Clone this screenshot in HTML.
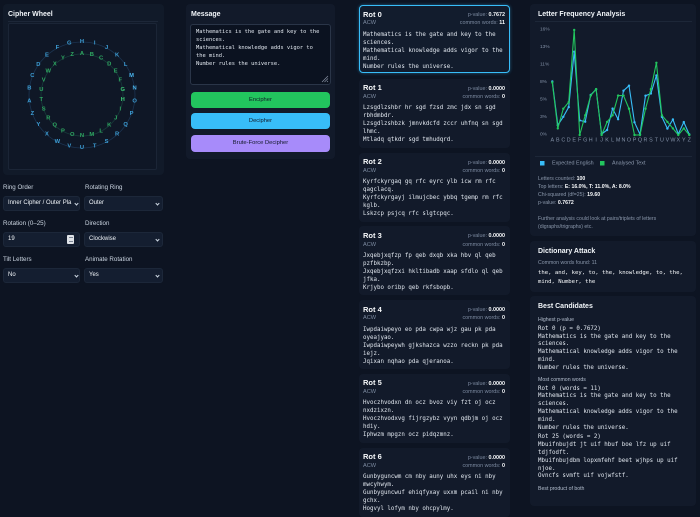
<!DOCTYPE html>
<html><head><meta charset="utf-8">
<style>
*{margin:0;padding:0;box-sizing:border-box}
html,body{width:700px;height:498px;overflow:hidden;background:#0d1422;font-family:"Liberation Sans",sans-serif;color:#e5e7eb}
.a{position:absolute;white-space:pre}
.card{position:absolute;background:#121a2a;border-radius:4px}
.h{font-weight:bold;font-size:7px;line-height:10px;color:#f1f5f9}
.rt{font-weight:bold;font-size:7.5px;line-height:10px;color:#f8fafc}
.acw{font-size:5.6px;line-height:10px;color:#7c8aa0}
.pv{font-size:5.4px;line-height:10px;color:#7c8aa0;text-align:right}
.pv b{color:#f8fafc}
.lbl{font-size:6.2px;line-height:10px;color:#cbd5e1}
.sel{position:absolute;background:#141e30;border:1px solid #1c2739;border-radius:3px;font-size:6px;line-height:13px;color:#f1f5f9;padding-left:4px;overflow:hidden;white-space:pre}
.chev{position:absolute;width:3px;height:3px;border-right:1px solid #cbd5e1;border-bottom:1px solid #cbd5e1;transform:rotate(45deg)}
.mono{font-family:"DejaVu Sans Mono","Liberation Mono",monospace;font-size:5.8px;line-height:8px;color:#e2e8f0}
.sm{font-size:5.2px;line-height:7.8px;color:#8a97ab}
.sm b{color:#f8fafc}
.btn{position:absolute;left:191px;width:139px;border-radius:4px;font-size:5.8px;color:#111827;text-align:center}
.ln{position:absolute;height:1px;background:#1d2738}
</style></head><body>

<!-- LEFT COLUMN -->
<div class="card" style="left:3px;top:4px;width:161px;height:171px;background:#111a29"></div>
<div class="a h" style="left:8px;top:10px">Cipher Wheel</div>
<div class="ln" style="left:8px;top:21px;width:150px"></div>
<div class="a" style="left:8px;top:23px;width:149px;height:147px;background:#0f1726;border:1px solid #1b2536;border-radius:2px"></div>
<svg class="a" style="left:0;top:0" width="170" height="175" viewBox="0 0 170 175">
<circle cx="82" cy="95" r="53" fill="none" stroke="#1b3350" stroke-width="0.8"/>
<circle cx="82" cy="95" r="41" fill="none" stroke="#173a3a" stroke-width="0.8"/>
<g font-family="Liberation Sans, sans-serif" font-size="5.8" font-weight="bold" text-anchor="middle" dominant-baseline="central" fill="#3d9fd6">
<text x="82" y="42">H</text><text x="94.7" y="43.5">I</text><text x="106.6" y="48.1">J</text><text x="117.1" y="55.3">K</text><text x="125.6" y="64.9">L</text><text x="131.6" y="76.2" fill="#4cb8f0">M</text><text x="134.6" y="88.6" fill="#4cb8f0">N</text><text x="134.6" y="101.4">O</text><text x="131.6" y="113.8">P</text><text x="125.6" y="125.1">Q</text><text x="117.1" y="134.7">R</text><text x="106.6" y="141.9">S</text><text x="94.7" y="146.5">T</text><text x="82" y="148">U</text><text x="69.3" y="146.5">V</text><text x="57.4" y="141.9">W</text><text x="46.9" y="134.7">X</text><text x="38.4" y="125.1">Y</text><text x="32.4" y="113.8">Z</text><text x="29.4" y="101.4">A</text><text x="29.4" y="88.6">B</text><text x="32.4" y="76.2">C</text><text x="38.4" y="64.9">D</text><text x="46.9" y="55.3">E</text><text x="57.4" y="48.1">F</text><text x="69.3" y="43.5">G</text>
</g>
<g font-family="Liberation Sans, sans-serif" font-size="5.8" font-weight="bold" text-anchor="middle" dominant-baseline="central" fill="#2fa862">
<text x="82" y="54">A</text><text x="91.8" y="55.2">B</text><text x="101.1" y="58.7">C</text><text x="109.2" y="64.3">D</text><text x="115.7" y="71.7">E</text><text x="120.3" y="80.5">F</text><text x="122.7" y="90.1" fill="#3cc874">G</text><text x="122.7" y="99.9" fill="#3cc874">H</text><text x="120.3" y="109.5">I</text><text x="115.7" y="118.3">J</text><text x="109.2" y="125.7">K</text><text x="101.1" y="131.3">L</text><text x="91.8" y="134.8">M</text><text x="82" y="136">N</text><text x="72.2" y="134.8">O</text><text x="62.9" y="131.3">P</text><text x="54.8" y="125.7">Q</text><text x="48.3" y="118.3">R</text><text x="43.7" y="109.5">S</text><text x="41.3" y="99.9">T</text><text x="41.3" y="90.1">U</text><text x="43.7" y="80.5">V</text><text x="48.3" y="71.7">W</text><text x="54.8" y="64.3">X</text><text x="62.9" y="58.7">Y</text><text x="72.2" y="55.2">Z</text>
</g>
</svg>

<div class="a lbl" style="left:3px;top:183px">Ring Order</div>
<div class="a lbl" style="left:85px;top:183px">Rotating Ring</div>
<div class="sel" style="left:3px;top:196px;width:77px;height:15px;padding-right:8px">Inner Cipher / Outer Pla</div>
<div class="chev" style="left:75px;top:201.5px"></div>
<div class="sel" style="left:84px;top:196px;width:79px;height:15px">Outer</div>
<div class="chev" style="left:156px;top:201.5px"></div>

<div class="a lbl" style="left:3px;top:219px">Rotation (0–25)</div>
<div class="a lbl" style="left:85px;top:219px">Direction</div>
<div class="sel" style="left:3px;top:232px;width:77px;height:15px">19</div>
<div class="a" style="left:67px;top:235px;width:7px;height:9px;background:#dfe3e8;border-radius:1px"></div>
<div class="a" style="left:68.5px;top:237px;width:4px;height:1px;background:#7b8494"></div>
<div class="a" style="left:68.5px;top:241px;width:4px;height:1px;background:#7b8494"></div>
<div class="sel" style="left:84px;top:232px;width:79px;height:15px">Clockwise</div>
<div class="chev" style="left:156px;top:237.5px"></div>

<div class="a lbl" style="left:3px;top:255px">Tilt Letters</div>
<div class="a lbl" style="left:85px;top:255px">Animate Rotation</div>
<div class="sel" style="left:3px;top:268px;width:77px;height:15px">No</div>
<div class="chev" style="left:75px;top:273.5px"></div>
<div class="sel" style="left:84px;top:268px;width:79px;height:15px">Yes</div>
<div class="chev" style="left:156px;top:273.5px"></div>

<!-- MESSAGE COLUMN -->
<div class="card" style="left:186px;top:4px;width:149px;height:155px"></div>
<div class="a h" style="left:191px;top:10px">Message</div>
<div class="a" style="left:190px;top:24px;width:141px;height:61px;background:#0b1220;border:1px solid #2a3548;border-radius:3px"></div>
<div class="a mono" style="left:196px;top:27.6px;font-size:5.4px;line-height:8.15px">Mathematics is the gate and key to the
sciences.
Mathematical knowledge adds vigor to
the mind.
Number rules the universe.</div>
<svg class="a" style="left:321px;top:75px" width="8" height="8" viewBox="0 0 8 8"><path d="M7 1L1 7M7 3.5L3.5 7M7 6L6 7" stroke="#8a94a6" stroke-width="0.7"/></svg>
<div class="btn" style="top:92px;height:16px;line-height:16px;background:#22c55e">Encipher</div>
<div class="btn" style="top:113px;height:16px;line-height:16px;background:#38bdf8">Decipher</div>
<div class="btn" style="top:135px;height:17px;line-height:17px;background:#a78bfa">Brute-Force Decipher</div>

<!-- ROT COLUMN -->
<div class="card" style="left:359px;top:5px;width:151px;height:68px;border:1px solid #38bdf8;box-shadow:0 0 3px rgba(56,189,248,.45);background:#121c2d"></div>
<div class="a rt" style="left:363px;top:9.7px">Rot 0</div>
<div class="a acw" style="left:363px;top:18.3px">ACW</div>
<div class="a pv" style="right:195px;top:10px">p-value: <b>0.7672</b></div>
<div class="a pv" style="right:195px;top:18.3px">common words: <b>11</b></div>
<div class="a mono" style="left:363px;top:30.7px">Mathematics is the gate and key to the
sciences.
Mathematical knowledge adds vigor to the
mind.
Number rules the universe.</div>

<div class="card" style="left:359px;top:78.75px;width:151px;height:69px"></div>
<div class="a rt" style="left:363px;top:83.45px">Rot 1</div>
<div class="a acw" style="left:363px;top:92.05px">ACW</div>
<div class="a pv" style="right:195px;top:83.75px">p-value: <b>0.0000</b></div>
<div class="a pv" style="right:195px;top:92.05px">common words: <b>0</b></div>
<div class="a mono" style="left:363px;top:104.45px">Lzsgdlzshbr hr sgd fzsd zmc jdx sn sgd
rbhdmbdr.
Lzsgdlzshbzk jmnvkdcfd zccr uhfnq sn sgd
lhmc.
Mtladq qtkdr sgd tmhudqrd.</div>

<div class="card" style="left:359px;top:152.5px;width:151px;height:69px"></div>
<div class="a rt" style="left:363px;top:157.2px">Rot 2</div>
<div class="a acw" style="left:363px;top:165.8px">ACW</div>
<div class="a pv" style="right:195px;top:157.5px">p-value: <b>0.0000</b></div>
<div class="a pv" style="right:195px;top:165.8px">common words: <b>0</b></div>
<div class="a mono" style="left:363px;top:178.2px">Kyrfckyrgaq gq rfc eyrc ylb icw rm rfc
qagclacq.
Kyrfckyrgayj ilmujcbec ybbq tgemp rm rfc
kglb.
Lskzcp psjcq rfc slgtcpqc.</div>

<div class="card" style="left:359px;top:226.25px;width:151px;height:69px"></div>
<div class="a rt" style="left:363px;top:230.95px">Rot 3</div>
<div class="a acw" style="left:363px;top:239.55px">ACW</div>
<div class="a pv" style="right:195px;top:231.25px">p-value: <b>0.0000</b></div>
<div class="a pv" style="right:195px;top:239.55px">common words: <b>0</b></div>
<div class="a mono" style="left:363px;top:251.95px">Jxqebjxqfzp fp qeb dxqb xka hbv ql qeb
pzfbkzbp.
Jxqebjxqfzxi hkltibadb xaap sfdlo ql qeb
jfka.
Krjybo oribp qeb rkfsbopb.</div>

<div class="card" style="left:359px;top:300px;width:151px;height:69px"></div>
<div class="a rt" style="left:363px;top:304.7px">Rot 4</div>
<div class="a acw" style="left:363px;top:313.3px">ACW</div>
<div class="a pv" style="right:195px;top:305px">p-value: <b>0.0000</b></div>
<div class="a pv" style="right:195px;top:313.3px">common words: <b>0</b></div>
<div class="a mono" style="left:363px;top:325.7px">Iwpdaiwpeyo eo pda cwpa wjz gau pk pda
oyeajyao.
Iwpdaiwpeywh gjkshazca wzzo reckn pk pda
iejz.
Jqixan nqhao pda qjeranoa.</div>

<div class="card" style="left:359px;top:373.75px;width:151px;height:69px"></div>
<div class="a rt" style="left:363px;top:378.45px">Rot 5</div>
<div class="a acw" style="left:363px;top:387.05px">ACW</div>
<div class="a pv" style="right:195px;top:378.75px">p-value: <b>0.0000</b></div>
<div class="a pv" style="right:195px;top:387.05px">common words: <b>0</b></div>
<div class="a mono" style="left:363px;top:399.45px">Hvoczhvodxn dn ocz bvoz viy fzt oj ocz
nxdzixzn.
Hvoczhvodxvg fijrgzybz vyyn qdbjm oj ocz
hdiy.
Iphwzm mpgzn ocz pidqzmnz.</div>

<div class="card" style="left:359px;top:447.5px;width:151px;height:69px"></div>
<div class="a rt" style="left:363px;top:452.2px">Rot 6</div>
<div class="a acw" style="left:363px;top:460.8px">ACW</div>
<div class="a pv" style="right:195px;top:452.5px">p-value: <b>0.0000</b></div>
<div class="a pv" style="right:195px;top:460.8px">common words: <b>0</b></div>
<div class="a mono" style="left:363px;top:473.2px">Gunbyguncwm cm nby auny uhx eys ni nby
mwcyhwym.
Gunbyguncwuf ehiqfyxay uxxm pcail ni nby
gchx.
Hogvyl lofym nby ohcpylmy.</div>

<!-- RIGHT COLUMN -->
<div class="card" style="left:530px;top:4px;width:166px;height:232px"></div>
<div class="a h" style="left:538px;top:10px">Letter Frequency Analysis</div>
<div class="ln" style="left:535px;top:21px;width:157px"></div>
<svg class="a" style="left:525px;top:0" width="175" height="170" viewBox="525 0 175 170">
<g font-family="Liberation Sans, sans-serif" font-size="4.8" fill="#8391a7" dominant-baseline="central">
<text x="540" y="30">16%</text><text x="540" y="47.5">13%</text><text x="540" y="65">11%</text><text x="540" y="82.5">8%</text><text x="540" y="100">5%</text><text x="540" y="117.5">3%</text><text x="540" y="135">0%</text>
</g>
<g font-family="Liberation Sans, sans-serif" font-size="5.4" fill="#8391a7" text-anchor="middle" dominant-baseline="central">
<text x="552.3" y="140.5">A</text><text x="557.8" y="140.5">B</text><text x="563.3" y="140.5">C</text><text x="568.7" y="140.5">D</text><text x="574.2" y="140.5">E</text><text x="579.7" y="140.5">F</text><text x="585.2" y="140.5">G</text><text x="590.7" y="140.5">H</text><text x="596.1" y="140.5">I</text><text x="601.6" y="140.5">J</text><text x="607.1" y="140.5">K</text><text x="612.6" y="140.5">L</text><text x="618.1" y="140.5">M</text><text x="623.5" y="140.5">N</text><text x="629.0" y="140.5">O</text><text x="634.5" y="140.5">P</text><text x="640.0" y="140.5">Q</text><text x="645.5" y="140.5">R</text><text x="650.9" y="140.5">S</text><text x="656.4" y="140.5">T</text><text x="661.9" y="140.5">U</text><text x="667.4" y="140.5">V</text><text x="672.9" y="140.5">W</text><text x="678.3" y="140.5">X</text><text x="683.8" y="140.5">Y</text><text x="689.3" y="140.5">Z</text>
</g>
<polyline fill="none" stroke="#38bdf8" stroke-width="1.1" stroke-linejoin="round" points="552.3,81.4 557.8,125.2 563.3,116.8 568.7,107.1 574.2,51.7 579.7,120.4 585.2,121.7 590.7,95.0 596.1,89.3 601.6,134.0 607.1,130.0 612.6,108.6 618.1,119.2 623.5,90.7 629.0,85.7 634.5,122.3 640.0,134.3 645.5,95.7 650.9,93.5 656.4,75.5 661.9,116.9 667.4,128.6 672.9,119.5 678.3,134.0 683.8,122.1 689.3,134.5"/>
<g fill="#38bdf8">
<circle cx="552.3" cy="81.4" r="1.2"/><circle cx="557.8" cy="125.2" r="1.2"/><circle cx="563.3" cy="116.8" r="1.2"/><circle cx="568.7" cy="107.1" r="1.2"/><circle cx="574.2" cy="51.7" r="1.2"/><circle cx="579.7" cy="120.4" r="1.2"/><circle cx="585.2" cy="121.7" r="1.2"/><circle cx="590.7" cy="95.0" r="1.2"/><circle cx="596.1" cy="89.3" r="1.2"/><circle cx="601.6" cy="134.0" r="1.2"/><circle cx="607.1" cy="130.0" r="1.2"/><circle cx="612.6" cy="108.6" r="1.2"/><circle cx="618.1" cy="119.2" r="1.2"/><circle cx="623.5" cy="90.7" r="1.2"/><circle cx="629.0" cy="85.7" r="1.2"/><circle cx="634.5" cy="122.3" r="1.2"/><circle cx="640.0" cy="134.3" r="1.2"/><circle cx="645.5" cy="95.7" r="1.2"/><circle cx="650.9" cy="93.5" r="1.2"/><circle cx="656.4" cy="75.5" r="1.2"/><circle cx="661.9" cy="116.9" r="1.2"/><circle cx="667.4" cy="128.6" r="1.2"/><circle cx="672.9" cy="119.5" r="1.2"/><circle cx="678.3" cy="134.0" r="1.2"/><circle cx="683.8" cy="122.1" r="1.2"/><circle cx="689.3" cy="134.5" r="1.2"/>
</g>
<polyline fill="none" stroke="#22c55e" stroke-width="1.1" stroke-linejoin="round" points="552.3,82.5 557.8,128.4 563.3,108.75 568.7,102.2 574.2,30 579.7,135 585.2,115.3 590.7,95.6 596.1,89.1 601.6,135 607.1,121.9 612.6,115.3 618.1,95.6 623.5,95.6 629.0,108.75 634.5,135 640.0,135 645.5,108.75 650.9,89.1 656.4,62.8 661.9,115.3 667.4,121.9 672.9,128.4 678.3,135 683.8,128.4 689.3,135"/>
<g fill="#22c55e">
<circle cx="552.3" cy="82.5" r="1.2"/><circle cx="557.8" cy="128.4" r="1.2"/><circle cx="563.3" cy="108.75" r="1.2"/><circle cx="568.7" cy="102.2" r="1.2"/><circle cx="574.2" cy="30" r="1.2"/><circle cx="579.7" cy="135" r="1.2"/><circle cx="585.2" cy="115.3" r="1.2"/><circle cx="590.7" cy="95.6" r="1.2"/><circle cx="596.1" cy="89.1" r="1.2"/><circle cx="601.6" cy="135" r="1.2"/><circle cx="607.1" cy="121.9" r="1.2"/><circle cx="612.6" cy="115.3" r="1.2"/><circle cx="618.1" cy="95.6" r="1.2"/><circle cx="623.5" cy="95.6" r="1.2"/><circle cx="629.0" cy="108.75" r="1.2"/><circle cx="634.5" cy="135" r="1.2"/><circle cx="640.0" cy="135" r="1.2"/><circle cx="645.5" cy="108.75" r="1.2"/><circle cx="650.9" cy="89.1" r="1.2"/><circle cx="656.4" cy="62.8" r="1.2"/><circle cx="661.9" cy="115.3" r="1.2"/><circle cx="667.4" cy="121.9" r="1.2"/><circle cx="672.9" cy="128.4" r="1.2"/><circle cx="678.3" cy="135" r="1.2"/><circle cx="683.8" cy="128.4" r="1.2"/><circle cx="689.3" cy="135" r="1.2"/>
</g>
<line x1="535" y1="156.5" x2="692" y2="156.5" stroke="#1d2738" stroke-width="1"/>
<rect x="540" y="161" width="4.5" height="4.5" fill="#38bdf8"/>
<rect x="600" y="161" width="4.5" height="4.5" fill="#22c55e"/>
<g font-family="Liberation Sans, sans-serif" font-size="5.4" fill="#8a97ab" dominant-baseline="central">
<text x="552" y="163.3">Expected English</text><text x="612" y="163.3">Analysed Text</text>
</g>
</svg>
<div class="a sm" style="left:538px;top:176.4px">Letters counted: <b>100</b>
Top letters: <b>E: 16.0%, T: 11.0%, A: 8.0%</b>
Chi-squared (df=25): <b>19.60</b>
p-value: <b>0.7672</b></div>
<div class="a sm" style="left:538px;top:215px;line-height:8px">Further analysis could look at pairs/triplets of letters
(digraphs/trigraphs) etc.</div>

<div class="card" style="left:530px;top:241px;width:166px;height:51px"></div>
<div class="a h" style="left:538px;top:247.3px">Dictionary Attack</div>
<div class="a sm" style="left:538px;top:259.8px">Common words found: 11</div>
<div class="a mono" style="left:538px;top:269.1px;font-size:5.6px;line-height:8.4px;color:#f8fafc">the, and, key, to, the, knowledge, to, the,
mind, Number, the</div>

<div class="card" style="left:530px;top:296px;width:166px;height:210px"></div>
<div class="a h" style="left:538px;top:301.7px">Best Candidates</div>
<div class="a sm" style="left:538px;top:317.1px;color:#b4bfcf">Highest p-value</div>
<div class="a mono" style="left:538px;top:325.8px;line-height:7.85px">Rot 0 (p = 0.7672)
Mathematics is the gate and key to the
sciences.
Mathematical knowledge adds vigor to the
mind.
Number rules the universe.</div>
<div class="a sm" style="left:538px;top:376.8px;color:#b4bfcf">Most common words</div>
<div class="a mono" style="left:538px;top:385.5px;line-height:7.9px">Rot 0 (words = 11)
Mathematics is the gate and key to the
sciences.
Mathematical knowledge adds vigor to the
mind.
Number rules the universe.</div>
<div class="a mono" style="left:538px;top:434.4px;line-height:7.8px">Rot 25 (words = 2)
Mbuifnbujdt jt uif hbuf boe lfz up uif
tdjfodft.
Mbuifnbujdbm lopxmfehf beet wjhps up uif
njoe.
Ovncfs svmft uif vojwfstf.</div>
<div class="a sm" style="left:538px;top:486.1px;color:#b4bfcf">Best product of both</div>

</body></html>
